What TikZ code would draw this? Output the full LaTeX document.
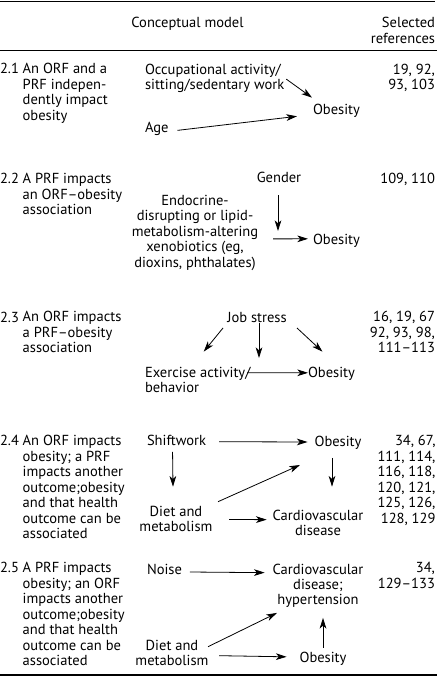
\documentclass[tikz,border=0pt]{standalone}
\usepackage{fontspec}
\setmainfont{PT Sans}
\usetikzlibrary{arrows.meta}
\tikzset{
  txt/.style={font=\fontsize{10.9}{11.6}\selectfont, inner sep=0pt, outer sep=0pt},
  lft/.style={txt, anchor=base west, align=left},
  rgt/.style={txt, anchor=base east, align=right},
  ctr/.style={txt, anchor=base, align=center},
  arr/.style={line width=0.6pt, -{Stealth[length=8pt,width=5pt,inset=2.2pt]}},
  rule/.style={line width=1pt}
}
\begin{document}
\begin{tikzpicture}[x=0.75pt,y=-0.75pt]
\useasboundingbox (0,0) rectangle (440,677);
% rules
\draw[rule] (0,1.7) -- (435,1.7);
\draw[rule] (0,50.7) -- (437,50.7);
\draw[rule] (0,675) -- (437,675);
% header (multi-line nodes are placed by the baseline of their last line)
\node[ctr] (hcm) at (187.5,28) {Conceptual model};
\node[rgt] (href) at (435,43.47) {Selected\\references};
% ---- 2.1
\node[lft] (n21) at (0,74) {2.1};
\node[lft] (l21) at (22.7,120.4) {An ORF and a\\PRF indepen-\\dently impact\\obesity};
\node[rgt] (r21) at (435,89.47) {19, 92,\\93, 103};
\node[lft] (occ) at (145,89.47) {Occupational activity/\\sitting/sedentary work};
\node[lft] (ob21) at (313,115) {Obesity};
\node[lft] (age) at (145,133) {Age};
\draw[arr] ([shift={(2,1)}]occ.east) -- ([shift={(-1,-7)}]ob21.north west);
\draw[arr] ([shift={(9,1)}]age.east) -- ([shift={(-16,5)}]ob21.west);
% ---- 2.2
\node[lft] (n22) at (0,184) {2.2};
\node[lft] (l22) at (22.7,214.93) {A PRF impacts\\an ORF--obesity\\association};
\node[rgt] (r22) at (435,184) {109, 110};
\node[ctr] (gen) at (279,183) {Gender};
\node[ctr] (endo) at (195,267.37) {Endocrine-\\disrupting or lipid-\\metabolism-altering\\xenobiotics (eg,\\dioxins, phthalates)};
\node[lft] (ob22) at (313,244) {Obesity};
\coordinate (g22) at (278,231);
\draw[arr] ([shift={(-1,12)}]gen.south) -- (g22);
\draw[arr] ([shift={(15,6)}]endo.east) -- ([shift={(-5,-1.5)}]ob22.west);
% ---- 2.3
\node[lft] (n23) at (0,322) {2.3};
\node[lft] (l23) at (22.7,352.93) {An ORF impacts\\a PRF--obesity\\association};
\node[rgt] (r23) at (435,352.93) {16, 19, 67\\92, 93, 98,\\111--113};
\node[ctr] (job) at (257,322) {Job stress};
\node[lft] (ex) at (145,392.47) {Exercise activity/\\behavior};
\node[lft] (ob23) at (308,377) {Obesity};
\coordinate (j23) at (259,358);
\draw[arr] ([shift={(-34,6)}]job.base) -- ([shift={(6,-15)}]ex.north);
\draw[arr] ([shift={(2,1)}]job.base) -- (j23);
\draw[arr] ([shift={(40,6)}]job.base) -- ([shift={(-9,-15)}]ob23.north);
\draw[arr] ([shift={(102,6)}]ex.north west) -- ([shift={(0,-0.5)}]ob23.west);
% ---- 2.4
\node[lft] (n24) at (0,445.7) {2.4};
\node[lft] (l24) at (22.7,538.5) {An ORF impacts\\obesity; a PRF\\impacts another\\outcome;obesity\\and that health\\outcome can be\\associated};
\node[rgt] (r24) at (435.5,523.03) {34, 67,\\111, 114,\\116, 118,\\120, 121,\\125, 126,\\128, 129};
\node[lft] (shw) at (147,445.7) {Shiftwork};
\node[ctr] (ob24) at (338,446) {Obesity};
\node[ctr] (diet24) at (176,531.97) {Diet and\\metabolism};
\node[ctr] (cvd24) at (318,535.47) {Cardiovascular\\disease};
\draw[arr] ([shift={(13,-4)}]shw.base east) -- ([shift={(-7,-4)}]ob24.base west);
\draw[arr] ([shift={(-4,6)}]shw.south) -- ([shift={(-3,-19.5)}]diet24.north);
\draw[arr] ([shift={(-6,9)}]ob24.south) -- ([shift={(14,-23)}]cvd24.north);
\draw[arr] ([shift={(42,-4.5)}]diet24.north) -- ([shift={(-38,16)}]ob24.south);
\draw[arr] ([shift={(16.5,0.3)}]diet24.east) -- ([shift={(-6,-3)}]cvd24.west);
% ---- 2.5
\node[lft] (n25) at (0,572.7) {2.5};
\node[lft] (l25) at (22.7,665.5) {A PRF impacts\\obesity; an ORF\\impacts another\\outcome;obesity\\and that health\\outcome can be\\associated};
\node[rgt] (r25) at (435,588.17) {34,\\129--133};
\node[lft] (noise) at (147,574) {Noise};
\node[ctr] (cvd25) at (318,604.93) {Cardiovascular\\disease;\\hypertension};
\node[ctr] (diet25) at (172,665.47) {Diet and\\metabolism};
\node[ctr] (ob25) at (323,662) {Obesity};
\draw[arr] ([shift={(8,-2)}]noise.base east) -- ([shift={(-8,9)}]cvd25.north west);
\draw[arr] ([shift={(36,7)}]diet25.north) -- ([shift={(-41,5)}]cvd25.south);
\draw[arr] ([shift={(10.5,3)}]diet25.east) -- ([shift={(-13,-1.5)}]ob25.west);
\draw[arr] ([shift={(0,-4)}]ob25.north) -- ([shift={(5,10)}]cvd25.south);
\end{tikzpicture}
\end{document}
